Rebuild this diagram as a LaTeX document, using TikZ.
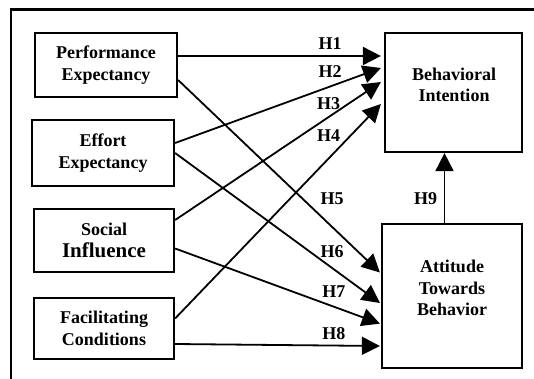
\documentclass[tikz,border=0pt]{standalone}
\usepackage{fontspec}
\setmainfont{Liberation Serif}
\usetikzlibrary{arrows.meta}
\begin{document}
\begin{tikzpicture}[x=1pt,y=-1pt,
  box/.style={draw,line width=2.2pt,inner sep=0pt,align=center,
    font=\fontsize{18}{21.5}\selectfont\bfseries},
  txt/.style={inner sep=0pt,align=center,font=\fontsize{18}{21.5}\selectfont\bfseries},
  hlab/.style={inner sep=0pt,font=\fontsize{18}{21}\selectfont\bfseries},
  conn/.style={line width=1.8pt,-{Triangle[length=18pt,width=18pt]}}]
\useasboundingbox (0,0) rectangle (534,379);
\clip (0,0) rectangle (534,379);
\fill[white] (0,0) rectangle (534,379);
\draw[line width=2.8pt] (11,9.5) rectangle (560,400);
% boxes
\node[box,minimum width=142pt,minimum height=64pt] (PE) at (106,65) {Performance\\Expectancy};
\node[box,minimum width=142pt,minimum height=66pt] (EE) at (103,153) {Effort\\Expectancy};
\node[box,minimum width=140pt,minimum height=63pt] (SI) at (104,240.5) {Social\\{\fontsize{21}{21.5}\selectfont Influence}};
\node[box,minimum width=140pt,minimum height=61pt] (FC) at (104,328.5) {Facilitating\\Conditions};
\node[box,minimum width=137pt,minimum height=119pt] (BI) at (453.5,92.5) {};
\node[txt] (BIt) at (454,85) {Behavioral\\Intention};
\node[box,minimum width=140pt,minimum height=144pt] (ATB) at (452,296) {};
\node[txt] (ATBt) at (452,288) {Attitude\\Towards\\Behavior};
% connectors
\draw[conn] ([yshift=9pt]PE.east) -- ([yshift=36.5pt,xshift=-3pt]BI.west);
\draw[conn] ([yshift=10pt]EE.east) -- ([yshift=24.5pt,xshift=-3pt]BI.west);
\draw[conn] ([yshift=20.5pt]SI.east) -- ([yshift=10.5pt,xshift=-3pt]BI.west);
\draw[conn] ([yshift=10pt]FC.east) -- ([yshift=-11.5pt,xshift=-3pt]BI.west);
\draw[conn] ([yshift=-15pt]PE.east) -- ([yshift=23.5pt,xshift=-1pt]ATB.west);
\draw[conn] ([yshift=0pt]EE.east) -- ([yshift=-7pt,xshift=-1pt]ATB.west);
\draw[conn] ([yshift=-8pt]SI.east) -- ([yshift=-27.6pt,xshift=-1pt]ATB.west);
\draw[conn] ([yshift=-15.5pt]FC.east) -- ([yshift=-50pt,xshift=-1pt]ATB.west);
\draw[conn] ([xshift=-7.5pt]ATB.north) -- ([xshift=-9pt]BI.south);
% labels
\node[hlab] (h1) at (330,43.6) {H1};
\node[hlab] (h2) at (330,72) {H2};
\node[hlab] (h3) at (328.7,104) {H3};
\node[hlab] (h4) at (328.7,136) {H4};
\node[hlab] (h5) at (332,199) {H5};
\node[hlab] (h6) at (332,252) {H6};
\node[hlab] (h7) at (333.8,292) {H7};
\node[hlab] (h8) at (333.8,333.8) {H8};
\node[hlab] (h9) at (425.7,199) {H9};
\end{tikzpicture}
\end{document}
